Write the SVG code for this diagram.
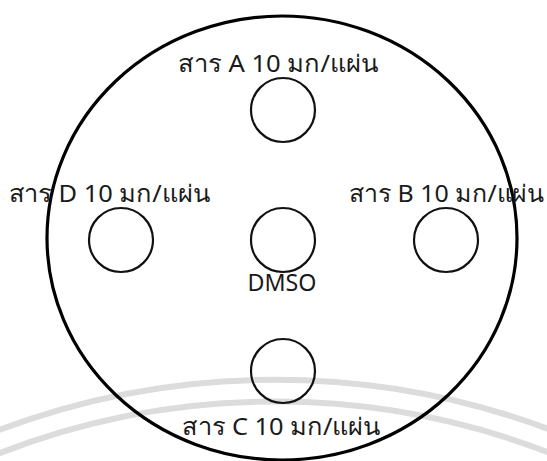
<svg xmlns="http://www.w3.org/2000/svg" width="547" height="461" viewBox="0 0 547 461">
<style>
.lbl{font-family:"Noto Sans","DejaVu Sans",sans-serif;font-size:24px;fill:#1a1a1a;text-anchor:middle}
.well{fill:none;stroke:#111;stroke-width:2.2}
.plate{fill:none;stroke:#000;stroke-width:3.2}
.wm{fill:none;stroke:#dcdcdc;stroke-width:6}
</style>
<rect width="547" height="461" fill="#fff"/>
<g id="watermark">
<path class="wm" d="M -40 446 A 781 781 0 0 1 590 446"/>
<path class="wm" d="M -40 470 A 759 759 0 0 1 590 470"/>
</g>
<g id="plate"><ellipse class="plate" cx="282" cy="238" rx="235" ry="222"/></g>
<g id="connectors"></g>
<g id="well-a"><circle class="well" cx="283" cy="110" r="32"/><text class="lbl" x="278" y="72" textLength="200" lengthAdjust="spacingAndGlyphs">สาร A 10 มก/แผ่น</text></g>
<g id="well-d"><circle class="well" cx="121" cy="240" r="32"/><text class="lbl" x="109" y="202" textLength="201" lengthAdjust="spacingAndGlyphs">สาร D 10 มก/แผ่น</text></g>
<g id="well-b"><circle class="well" cx="446" cy="240" r="32"/><text class="lbl" x="446" y="202" textLength="195" lengthAdjust="spacingAndGlyphs">สาร B 10 มก/แผ่น</text></g>
<g id="well-dmso"><circle class="well" cx="283" cy="240" r="32"/><text class="lbl" x="282" y="291" textLength="69" lengthAdjust="spacingAndGlyphs">DMSO</text></g>
<g id="well-c"><circle class="well" cx="283" cy="371" r="32"/><text class="lbl" x="281" y="435" textLength="198" lengthAdjust="spacingAndGlyphs">สาร C 10 มก/แผ่น</text></g>
</svg>
